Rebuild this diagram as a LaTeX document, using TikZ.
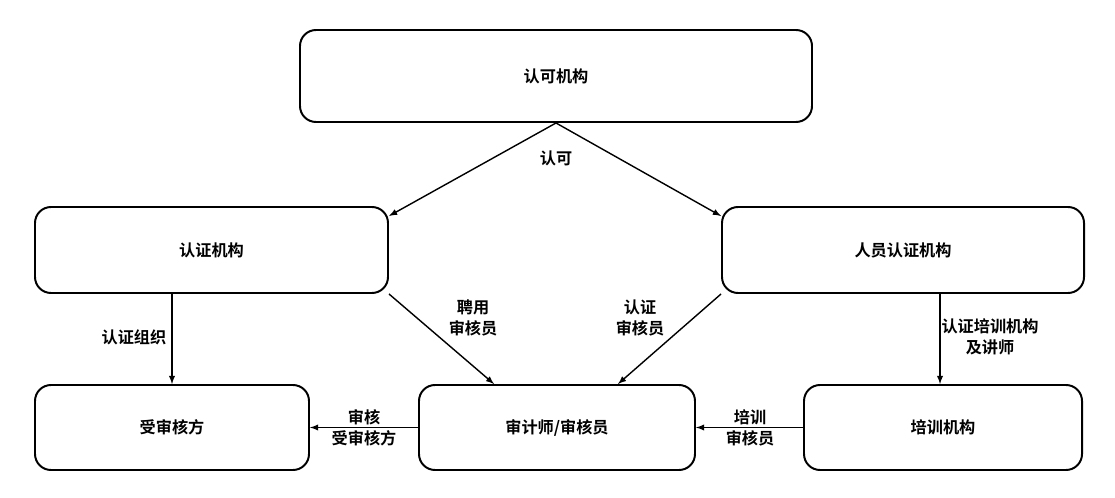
\documentclass[tikz,border=0pt]{standalone}
\usepackage{fontspec}
\setmainfont{Noto Sans CJK SC}[BoldFont={Noto Sans CJK SC Bold}]
\usetikzlibrary{calc}
\begin{document}
\begin{tikzpicture}[x=0.025cm, y=-0.025cm]
        % ================= 样式 =================
        \tikzset{
            % 方框
            org_box/.style={draw=black, line width=1.4pt, rounded corners=0.4cm, fill=white, font=\fontsize{11.5}{14}\selectfont\bfseries, inner sep=0pt},
            % 箭头
            flow_arrow/.style={line width=1pt, -latex},
            % 标注
            flow_label/.style={font=\fontsize{11.5}{15}\selectfont\bfseries, align=center, inner sep=1pt}
        }
        \useasboundingbox (0,0) rectangle (1115,498);

        % 各机构
        \node[org_box, minimum width=512*0.025cm, minimum height=92*0.025cm] (accr) at (556,76) {认可机构};
        \node[org_box, minimum width=353*0.025cm, minimum height=86*0.025cm] (cert) at (211.5,250) {认证机构};
        \node[org_box, minimum width=362*0.025cm, minimum height=86*0.025cm] (pcert) at (903,250) {人员认证机构};
        \node[org_box, minimum width=274*0.025cm, minimum height=85*0.025cm] (auditee) at (172,427.5) {受审核方};
        \node[org_box, minimum width=276*0.025cm, minimum height=85*0.025cm] (auditor) at (557,427.5) {审计师/审核员};
        \node[org_box, minimum width=278*0.025cm, minimum height=85*0.025cm] (train) at (943,427.5) {培训机构};

        % 连线
        \draw[flow_arrow] (accr.south) -- ($(cert.north east)+(0,10)$);
        \draw[flow_arrow] (accr.south) -- ($(pcert.north west)+(0,10)$);
        \node[flow_label] (l_accr) at (556,158) {认可};

        \draw[flow_arrow] (cert.south -| auditee.north) -- (auditee.north);
        \node[flow_label, anchor=east] (l_org) at (168,337) {认证组织};

        \draw[flow_arrow] (cert.south east) -- ($(auditor.north west)+(76,0)$);
        \node[flow_label] (l_hire) at (473,318) {聘用\\审核员};

        \draw[flow_arrow] (pcert.south west) -- ($(auditor.north east)+(-78,0)$);
        \node[flow_label] (l_cert) at (640,318) {认证\\审核员};

        \draw[flow_arrow] ($(pcert.south)+(37,0)$) -- ($(train.north)+(-3,0)$);
        \node[flow_label] (l_train) at (990,337) {认证培训机构\\及讲师};

        \draw[flow_arrow] (auditor.west) -- (auditee.east);
        \node[flow_label] (l_audit) at (364,428) {审核\\受审核方};

        \draw[flow_arrow] (train.west) -- (auditor.east);
        \node[flow_label] (l_tr) at (750,428) {培训\\审核员};
\end{tikzpicture}
\end{document}
